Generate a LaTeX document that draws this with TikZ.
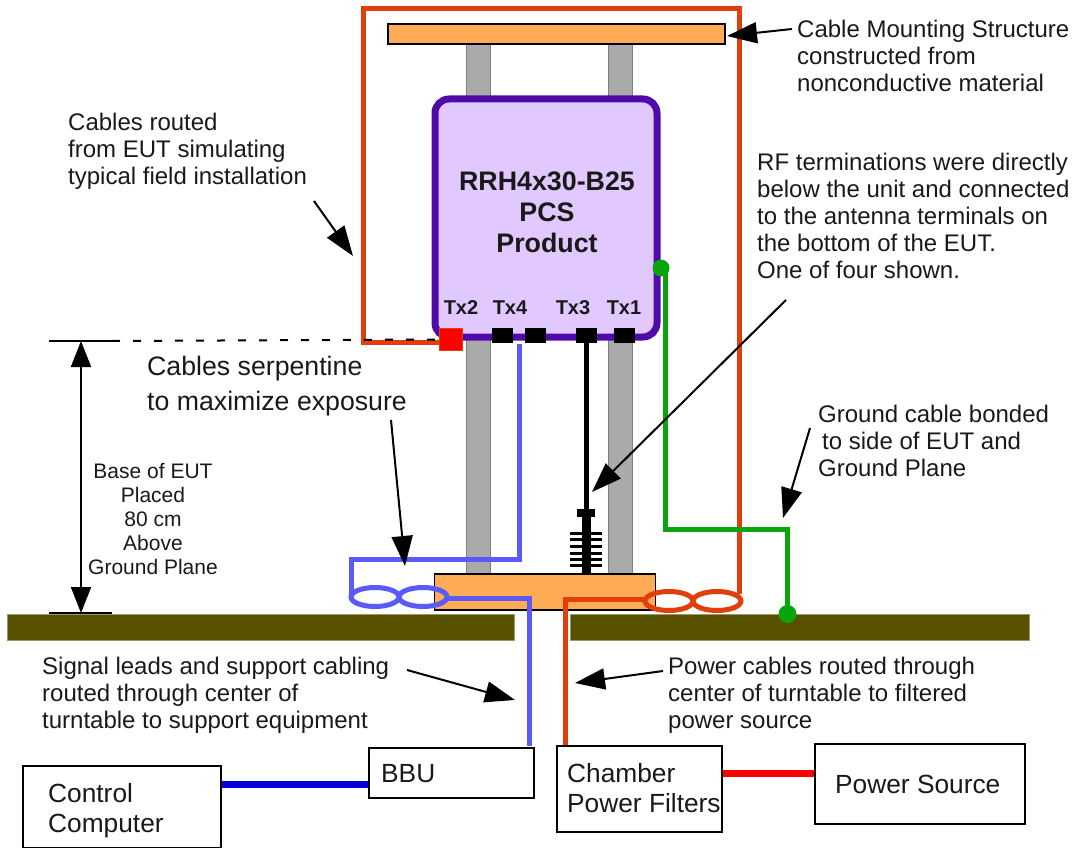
\documentclass[tikz,border=0pt]{standalone}
\usepackage{fontspec}
\setmainfont{Liberation Sans}
\usetikzlibrary{arrows.meta}
\definecolor{redor}{RGB}{226,62,10}
\definecolor{bluel}{RGB}{90,90,250}
\definecolor{grn}{RGB}{10,165,10}
\definecolor{olive}{RGB}{88,82,0}
\definecolor{orangeb}{RGB}{255,170,85}
\definecolor{lilac}{RGB}{225,200,255}
\definecolor{purp}{RGB}{80,10,170}
\definecolor{graybar}{RGB}{170,170,170}
\tikzset{
 lbl/.style={font=\fontsize{24}{27}\selectfont,align=left,inner sep=0pt,anchor=north west,text=black!90},
 blbl/.style={font=\fontsize{26.3}{30}\selectfont,align=left,inner sep=0pt,anchor=north west,text=black!90},
 cbox/.style={draw=black,line width=2pt,fill=white,inner sep=0pt},
 pole/.style={draw=black!50,line width=0.6pt,fill=graybar},
 call/.style={line width=2pt,-{Triangle[length=30pt,width=21pt]}},
 port/.style={fill=black,inner sep=0pt,minimum width=21pt,minimum height=15pt},
 rc/.style={draw=redor,line width=5pt},
 bc/.style={draw=bluel,line width=5pt},
 gc/.style={draw=grn,line width=5pt},
 dim/.style={line width=2pt,{Triangle[length=26pt,width=20pt]}-{Triangle[length=26pt,width=20pt]}},
 gplane/.style={fill=olive,draw=olive!60!white,line width=0.5pt}
}
\begin{document}
\begin{tikzpicture}[x=1pt,y=-1pt]
\useasboundingbox (0,0) rectangle (1072,848);
% poles
\path[pole] (466,40) rectangle (490,575);
\path[pole] (608,40) rectangle (632,575);
% red frame
\draw[rc,line join=miter] (451,342) -- (363,342) -- (363,9) -- (739,9) -- (739,594);
% top bar
\node[draw=black,line width=1.2pt,fill=orangeb,minimum width=337pt,minimum height=20pt,inner sep=0pt] (topbar) at (556.5,34) {};
% EUT
\node[draw=purp,line width=7pt,fill=lilac,rounded corners=14pt,minimum width=222pt,minimum height=238pt,inner sep=0pt] (eut) at (546,218) {};
\node[font=\bfseries\fontsize{26.8}{31}\selectfont,align=center,text=black!90,inner sep=0pt] (eutlabel) at (547,212) {RRH4x30-B25\\PCS\\Product};
\foreach \n/\x in {Tx2/461,Tx4/510,Tx3/573,Tx1/624}{
 \node[font=\bfseries\fontsize{20}{22}\selectfont,text=black!90,inner sep=0pt] (lab\n) at (\x,308) {\n};
}
\node[port] (p4) at (502,335.5) {};
\node[port] (pe) at (535,335.5) {};
\node[port] (p3) at (586,335.5) {};
\node[port] (p1) at (624,335.5) {};
\node[fill=red,draw=redor,line width=0.6pt,minimum width=23pt,minimum height=22pt,inner sep=0pt] (p2) at (451,339.5) {};
% turntable
\node[draw=black,line width=1.6pt,fill=orangeb,minimum width=221pt,minimum height=36pt,inner sep=0pt] (tt) at (545,592) {};
% termination
\coordinate (termtop) at (586,343);
\coordinate (termmid) at (586,513);
\coordinate (termbot) at (586,574);
\draw[line width=5pt,black] (termtop) -- (termmid);
\draw[line width=9pt,black] (termmid) -- (termbot);
\node[fill=black,minimum width=18pt,minimum height=8pt,inner sep=0pt] (termcap) at (termmid) {};
\foreach \y in {533,539,546,553,559,565}{\draw[line width=3pt] (570,\y) -- (602,\y);}
% ground plane
\node[gplane,minimum width=507pt,minimum height=26pt,inner sep=0pt] (gl) at (261,627) {};
\node[gplane,minimum width=459pt,minimum height=26pt,inner sep=0pt] (gr) at (800,627) {};
% blue cable
\draw[bc,line join=miter] (519,344) -- (519,559) -- (351,559) -- (351,597);
\draw[bc] (375,597) ellipse (24pt and 9.5pt);
\draw[bc] (423,597) ellipse (24pt and 9.5pt) ;
\draw[bc,line join=miter] (447,598) -- (529,598) -- (529,746);
% red cable
\draw[rc] (669,601) ellipse (24pt and 9.5pt);
\draw[rc] (717,601) ellipse (24pt and 9.5pt);
\draw[rc,line join=miter] (645,599) -- (565.5,599) -- (565.5,746);
% green cable
\node[circle,fill=grn,minimum size=17pt,inner sep=0pt] (g1) at (661,268) {};
\node[circle,fill=grn,minimum size=18pt,inner sep=0pt] (g2) at (787.5,614) {};
\draw[gc,line join=miter] (g1.center) -- (665,268) -- (665,529) -- (787.5,529) -- (g2.center);
% boxes
\node[cbox,minimum width=198pt,minimum height=82pt] (cc) at (122,807) {};
\node[cbox,minimum width=165pt,minimum height=50pt] (bbu) at (451,773) {};
\node[cbox,minimum width=165pt,minimum height=86pt] (cpf) at (639,789) {};
\node[cbox,minimum width=210pt,minimum height=80pt] (ps) at (920,784) {};
\draw[line width=7pt,draw=blue!85!black] (cc.east |- 0,784) -- (bbu.west |- 0,784);
\draw[line width=7pt,draw=red] (cpf.east |- 0,773) -- (ps.west |- 0,773);
\node[blbl] (cctext) at (48,783) {Control\\Computer};
\node[blbl] (bbutext) at (381,764) {BBU};
\node[blbl] (cpftext) at (567,763) {Chamber\\Power Filters};
\node[blbl] (pstext) at (835,775) {Power Source};
% height marker
\coordinate (hT) at (81,341);
\coordinate (hB) at (81,613);
\draw[line width=1.4pt] (49,341) -- (112,341);
\draw[line width=1.4pt] (49,613) -- (112,613);
\draw[line width=2pt,dash pattern=on 8pt off 13pt] (112,341) -- (p2.west);
\draw[dim] (hT) -- (hB);
\node[font=\fontsize{21}{24}\selectfont,align=center,inner sep=1pt,text=black!90] (basetxt) at (153,519) {Base of EUT\\Placed\\80 cm\\Above\\Ground Plane};
% labels
\node[lbl] (t1) at (797,20) {Cable Mounting Structure\\constructed from\\nonconductive material};
\node[lbl] (t2) at (68,113) {Cables routed\\from EUT simulating\\typical field installation};
\node[lbl] (t3) at (757,152.5) {RF terminations were directly\\below the unit and connected\\to the antenna terminals on\\the bottom of the EUT.\\One of four shown.};
\node[lbl,font=\fontsize{26.7}{35}\selectfont] (t4) at (147,356) {Cables serpentine\\to maximize exposure};
\node[lbl] (t5) at (818,404.5) {Ground cable bonded\\\hspace*{4pt}to side of EUT and\\Ground Plane};
\node[lbl] (t6) at (42,656.5) {Signal leads and support cabling\\routed through center of\\turntable to support equipment};
\node[lbl] (t7) at (668,656.5) {Power cables routed through\\center of turntable to filtered\\power source};
% callouts
\coordinate (a1s) at (792,29); \coordinate (a1e) at (727,36);
\draw[call] (a1s) -- (a1e);
\coordinate (a2s) at (314,201); \coordinate (a2e) at (353,256);
\draw[call] (a2s) -- (a2e);
\coordinate (a3s) at (786,300); \coordinate (a3e) at (592,492);
\draw[call] (a3s) -- (a3e);
\coordinate (a4s) at (391,420); \coordinate (a4e) at (405,566);
\draw[call] (a4s) -- (a4e);
\coordinate (a5s) at (810,428); \coordinate (a5e) at (783,518);
\draw[call] (a5s) -- (a5e);
\coordinate (a6s) at (407,670); \coordinate (a6e) at (515,700);
\draw[call] (a6s) -- (a6e);
\coordinate (a7s) at (663,671); \coordinate (a7e) at (575,683);
\draw[call] (a7s) -- (a7e);
\end{tikzpicture}
\end{document}
